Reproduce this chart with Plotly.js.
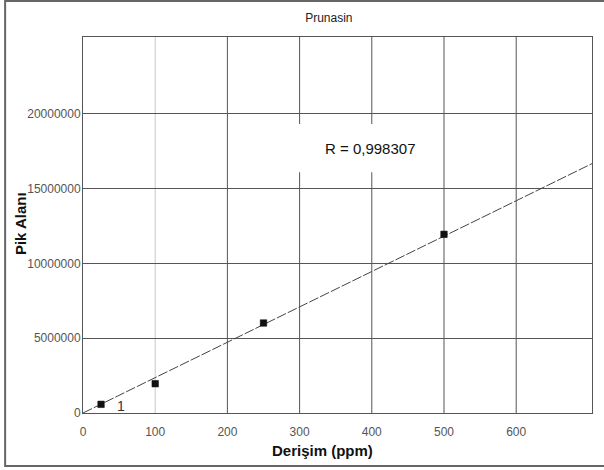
<!DOCTYPE html>
<html>
<head>
<meta charset="utf-8">
<script src="https://cdn.plot.ly/plotly-3.0.1.min.js"></script>
<style>
html,body{margin:0;padding:0;background:#fff;}
#chart{width:604px;height:470px;}
</style>
</head>
<body>
<div id="chart"></div>
<script>
// Data
const concentrations = [25, 100, 250, 500];            // Derişim (ppm)
const peakAreas = [580000, 1960000, 6020000, 11950000]; // Pik Alanı
const pointLabels = ['1', '', '', ''];
const trendX = [0, 705];
const trendY = [0, 16680000];
const xTicks = [0, 100, 200, 300, 400, 500, 600];
const yTicks = [0, 5000000, 10000000, 15000000, 20000000];
const rText = 'R = 0,998307';

const FONT = 'Liberation Sans, Arial, sans-serif';

const traces = [
  {
    x: trendX, y: trendY, type: 'scatter', mode: 'lines',
    line: {color: '#444', width: 1, dash: '10px,2px'},
    hoverinfo: 'skip', showlegend: false
  },
  {
    x: concentrations, y: peakAreas, type: 'scatter', mode: 'markers',
    marker: {symbol: 'square', size: 6.5, color: '#111', line: {color: '#000', width: 0.5}},
    showlegend: false
  }
];

// vertical grid lines drawn as shapes (the 100 line is lighter in the reference)
const vGrid = xTicks.filter(v => v > 0).map(v => ({
  type: 'line', xref: 'x', yref: 'paper', x0: v, x1: v, y0: 0, y1: 1,
  line: {color: v === 100 ? '#c8c8c8' : '#555', width: 1}, layer: 'between'
}));

const layout = {
  width: 604, height: 470,
  margin: {l: 83, r: 12, t: 37, b: 57, pad: 0},
  paper_bgcolor: '#fff', plot_bgcolor: '#fff',
  font: {family: FONT, color: '#222'},
  showlegend: false,
  title: {
    text: 'Prunasin', font: {family: FONT, size: 12, color: '#222'},
    xref: 'paper', x: 0.483, xanchor: 'center',
    yref: 'container', y: 0.962, yanchor: 'middle'
  },
  xaxis: {
    range: [0, 705], tickvals: xTicks, ticktext: xTicks.map(String),
    showgrid: false,
    zeroline: false, showline: true, linecolor: '#555', linewidth: 1, mirror: true,
    ticks: '', ticklabelstandoff: 8,
    tickfont: {family: FONT, size: 12, color: '#555'},
    automargin: false, fixedrange: true
  },
  yaxis: {
    range: [0, 25150000], tickvals: yTicks, ticktext: yTicks.map(String),
    showgrid: true, gridcolor: '#555', gridwidth: 1,
    zeroline: false, showline: true, linecolor: '#555', linewidth: 1, mirror: true,
    ticks: '', ticklabelstandoff: -1,
    tickfont: {family: FONT, size: 12, color: '#555'},
    automargin: false, fixedrange: true
  },
  shapes: vGrid.concat([
    // white box behind R annotation
    {type: 'rect', xref: 'x', yref: 'y', x0: 282, x1: 470, y0: 16100000, y1: 19330000,
     fillcolor: '#fff', line: {width: 0}, layer: 'between'},
    // outer frame
    {type: 'rect', xref: 'paper', yref: 'paper', x0: -0.153, x1: 1.03, y0: -0.141, y1: 1.096,
     line: {color: '#666', width: 2}, fillcolor: 'rgba(0,0,0,0)', layer: 'above'}
  ]),
  annotations: [
    {xref: 'x', yref: 'y', x: 398, y: 17700000, text: rText, showarrow: false,
     font: {family: FONT, size: 15, color: '#111'}, xanchor: 'center', yanchor: 'middle'},
    {xref: 'x', yref: 'y', x: concentrations[0], y: peakAreas[0], text: pointLabels[0], showarrow: false,
     xshift: 20, yshift: -2, font: {family: FONT, size: 14, color: '#333'}, xanchor: 'center', yanchor: 'middle'},
    // axis titles
    {xref: 'paper', yref: 'paper', x: 0.4715, y: -0.1, text: '<b>Derişim (ppm)</b>', showarrow: false,
     font: {family: FONT, size: 15, color: '#111'}, xanchor: 'center', yanchor: 'middle'},
    {xref: 'paper', yref: 'paper', x: -0.1238, y: 0.505, text: '<b>Pik Alanı</b>', showarrow: false, textangle: -90,
     font: {family: FONT, size: 15, color: '#111'}, xanchor: 'center', yanchor: 'middle'}
  ]
};

Plotly.newPlot('chart', traces, layout, {displayModeBar: false, staticPlot: true});
</script>
</body>
</html>
